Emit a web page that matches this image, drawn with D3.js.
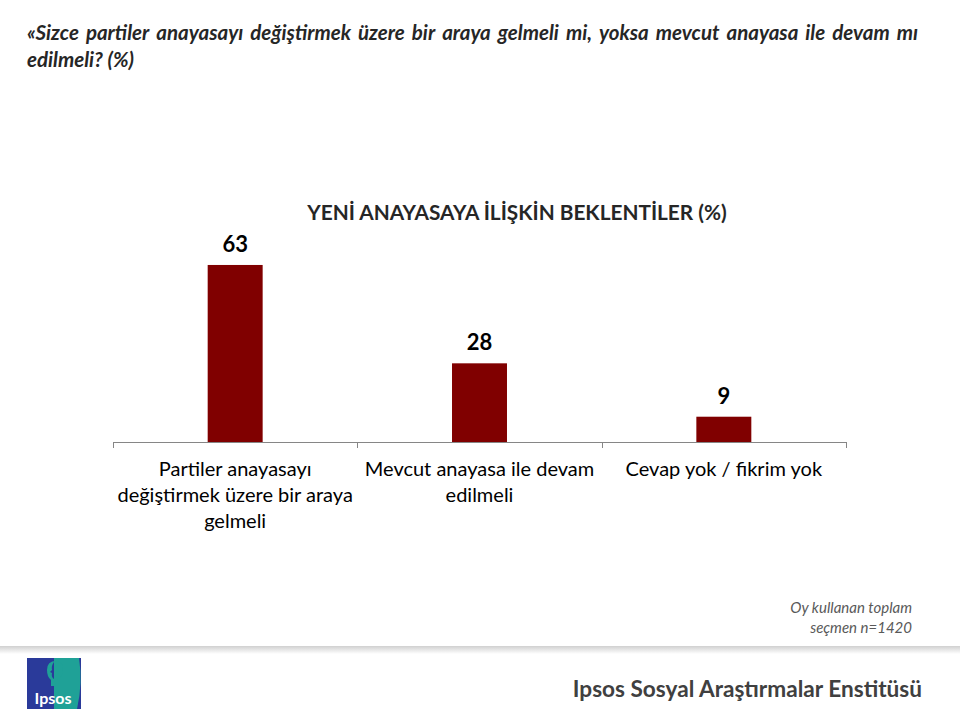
<!DOCTYPE html>
<html>
<head>
<meta charset="utf-8">
<script src="https://cdn.jsdelivr.net/npm/d3@7"></script>
<style>
  body { margin: 0; background: #fff; }
  svg text { font-family: Lato, "Open Sans", sans-serif; }
</style>
</head>
<body>
<div id="chart-container"></div>
<script>
// Data
const categories = [
  ["Partiler anayasayı", "değiştirmek üzere bir araya", "gelmeli"],
  ["Mevcut anayasa ile devam", "edilmeli"],
  ["Cevap yok / fikrim yok"]
];
const values = [63, 28, 9];
const questionLines = [
  "«Sizce partiler anayasayı değiştirmek üzere bir araya gelmeli mi, yoksa mevcut anayasa ile devam mı",
  "edilmeli? (%)"
];
const chartTitle = "YENİ ANAYASAYA İLİŞKİN BEKLENTİLER (%)";
const footnote = ["Oy kullanan toplam", "seçmen n=1420"];
const brand = "Ipsos Sosyal Araştırmalar Enstitüsü";

const width = 960;
const height = 720;

const svg = d3.select("#chart-container")
  .append("svg")
  .attr("width", width)
  .attr("height", height);

// Question text, justified first line
const qLeft = 27, qRight = 918;
questionLines.forEach((line, i) => {
  const y = 40 + i * 27;
  if (i === questionLines.length - 1) {
    svg.append("text")
      .attr("x", qLeft).attr("y", y)
      .attr("font-size", 20.5).attr("font-style", "italic").attr("font-weight", "bold")
      .attr("fill", "#262626")
      .text(line);
    return;
  }
  const words = line.split(" ");
  const g = svg.append("g");
  const nodes = words.map(w => g.append("text")
    .attr("y", y)
    .attr("font-size", 20.5).attr("font-style", "italic").attr("font-weight", "bold")
    .attr("fill", "#262626")
    .text(w));
  const widths = nodes.map(n => n.node().getComputedTextLength());
  const gap = (qRight - qLeft - d3.sum(widths)) / (words.length - 1);
  let x = qLeft;
  nodes.forEach((n, j) => { n.attr("x", x); x += widths[j] + gap; });
});

// Chart title
svg.append("text")
  .attr("x", 517).attr("y", 220)
  .attr("text-anchor", "middle")
  .attr("font-size", 20.8).attr("font-weight", "bold")
  .attr("fill", "#262626")
  .text(chartTitle);

// Scales
const x0 = 113, x1 = 846, yBase = 442;
const xScale = d3.scaleBand()
  .domain(d3.range(values.length))
  .range([x0, x1])
  .padding(0);

const yScale = d3.scaleLinear()
  .domain([0, 70])
  .range([yBase, yBase - 196.7]);

const barW = xScale.bandwidth() * 0.225;

// Bars
svg.selectAll(".bar")
  .data(values)
  .enter().append("rect")
  .attr("class", "bar")
  .attr("x", (d, i) => xScale(i) + xScale.bandwidth() / 2 - barW / 2)
  .attr("y", d => yScale(d))
  .attr("width", barW)
  .attr("height", d => yBase - yScale(d))
  .attr("fill", "#800000");

// Value labels
svg.selectAll(".val")
  .data(values)
  .enter().append("text")
  .attr("class", "val")
  .attr("x", (d, i) => xScale(i) + xScale.bandwidth() / 2)
  .attr("y", d => yScale(d) - 13)
  .attr("text-anchor", "middle")
  .attr("font-size", 22).attr("font-weight", "bold")
  .attr("fill", "#000")
  .text(d => d);

// X axis
const xAxis = d3.axisBottom(xScale).tickSize(0).tickFormat("");
const axisG = svg.append("g")
  .attr("transform", `translate(0,${yBase})`)
  .call(xAxis);
axisG.select(".domain").attr("stroke", "#868686").attr("d", `M${x0},0.5H${x1}`);

// category boundary ticks
const bounds = xScale.domain().map(i => xScale(i)).concat([x1]);
axisG.selectAll(".bound")
  .data(bounds)
  .enter().append("line")
  .attr("class", "bound")
  .attr("x1", d => Math.round(d) + 0.5).attr("x2", d => Math.round(d) + 0.5)
  .attr("y1", 0).attr("y2", 6)
  .attr("stroke", "#868686");

// Category labels
categories.forEach((lines, i) => {
  const t = svg.append("text")
    .attr("text-anchor", "middle")
    .attr("font-size", 20)
    .attr("fill", "#000");
  lines.forEach((l, j) => {
    t.append("tspan")
      .attr("x", xScale(i) + xScale.bandwidth() / 2)
      .attr("y", 476 + j * 26)
      .text(l);
  });
});

// Footnote
footnote.forEach((l, j) => {
  svg.append("text")
    .attr("x", 912).attr("y", 613 + j * 20)
    .attr("text-anchor", "end")
    .attr("font-size", 15).attr("font-style", "italic")
    .attr("fill", "#595959")
    .text(l);
});

// Separator shadow
const defs = svg.append("defs");
const grad = defs.append("linearGradient")
  .attr("id", "sep").attr("x1", 0).attr("y1", 0).attr("x2", 0).attr("y2", 1);
grad.append("stop").attr("offset", "0%").attr("stop-color", "#d0d0d0");
grad.append("stop").attr("offset", "100%").attr("stop-color", "#ffffff");
svg.append("rect")
  .attr("x", 0).attr("y", 646).attr("width", width).attr("height", 8)
  .attr("fill", "url(#sep)");

// Logo
const logo = svg.append("g").attr("transform", "translate(27,658)");
logo.append("rect").attr("width", 54).attr("height", 51).attr("fill", "#2a3a9a");
logo.append("path")
  .attr("d", "M27,0 H52 Q56,25 50,51 H27 Z")
  .attr("fill", "#1fa197");
// head silhouette
logo.append("path")
  .attr("d", "M20,12 Q20,3 29,3 Q37,4 36,13 Q35,20 30,22 L30,28 L24,28 L24,22 Q20,19 20,12 Z")
  .attr("fill", "#1fa197");
logo.append("path")
  .attr("d", "M27,4 Q24,8 25,12 L23,14 L25,15 Q24,19 27,21 Z")
  .attr("fill", "#2a3a9a");
logo.append("text")
  .attr("x", 26).attr("y", 46)
  .attr("text-anchor", "middle")
  .attr("font-size", 16).attr("font-weight", "bold")
  .attr("fill", "#fff")
  .text("Ipsos");

// Brand text
svg.append("text")
  .attr("x", 922).attr("y", 697)
  .attr("text-anchor", "end")
  .attr("font-size", 22.6).attr("font-weight", "bold")
  .attr("fill", "#404040")
  .text(brand);
</script>
</body>
</html>
